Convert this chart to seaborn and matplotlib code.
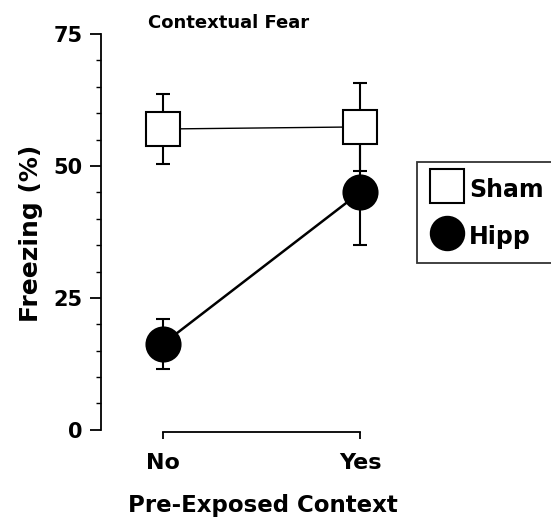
import matplotlib
matplotlib.use("Agg")
import matplotlib.pyplot as plt
from matplotlib.lines import Line2D
from matplotlib.ticker import MultipleLocator
import pandas as pd
import seaborn as sns

contexts = ["No", "Yes"]
groups = ["Sham", "Hipp"]
sham_mean = [57.0, 57.4]
sham_sem = [6.7, 8.4]
hipp_mean = [16.3, 45.0]
hipp_sem = [4.8, 10.0]

df = pd.DataFrame({
    "context": contexts * 2,
    "group": [groups[0]] * 2 + [groups[1]] * 2,
    "freezing": sham_mean + hipp_mean,
    "sem": sham_sem + hipp_sem,
})

sns.set_style("ticks", rc={
    "text.color": "black",
    "axes.labelcolor": "black",
    "axes.edgecolor": "black",
    "xtick.color": "black",
    "ytick.color": "black",
})
plt.rcParams["font.family"] = ["DejaVu Sans"]
plt.rcParams["font.weight"] = "bold"

fig = plt.figure(figsize=(5.51, 5.21), dpi=100)
ax = fig.add_axes([101 / 551, 1 - 432 / 521, 324 / 551, (432 - 34) / 521])

styles = {
    "Sham": dict(marker="s", mfc="white", lw=1.0),
    "Hipp": dict(marker="o", mfc="black", lw=1.8),
}

for g in groups:
    sub = df[df["group"] == g]
    ax.errorbar(sub["context"], sub["freezing"], yerr=sub["sem"], fmt="none",
                ecolor="black", elinewidth=1.5, capsize=4.7, capthick=1.5, zorder=1)
for g in groups:
    sub = df[df["group"] == g]
    st = styles[g]
    sns.lineplot(data=sub, x="context", y="freezing", ax=ax, color="black",
                 linewidth=st["lw"], marker=st["marker"], markersize=24.5,
                 markerfacecolor=st["mfc"], markeredgecolor="black",
                 markeredgewidth=1.5, sort=False, legend=False, zorder=3)

ax.set_xlim(-0.315, 1.33)
ax.set_ylim(-0.4, 75)
ax.yaxis.set_major_locator(MultipleLocator(25))
ax.yaxis.set_minor_locator(MultipleLocator(5))
ax.spines["top"].set_visible(False)
ax.spines["right"].set_visible(False)
ax.spines["left"].set_bounds(0, 75)
ax.spines["bottom"].set_bounds(0, 1)
for s in ("left", "bottom"):
    ax.spines[s].set_linewidth(1.3)
ax.tick_params(axis="y", which="major", length=8, width=1.3, pad=5, labelsize=15)
ax.tick_params(axis="y", which="minor", length=3.5, width=1.0)
ax.tick_params(axis="x", which="major", length=5, width=1.3, pad=10, labelsize=16)

ax.set_xlabel("Pre-Exposed Context", fontsize=16.5, fontweight="bold", labelpad=15)
ax.set_ylabel("Freezing (%)", fontsize=18, fontweight="bold", labelpad=8)
ax.text(148 / 551, 1 - 23 / 521, "Contextual Fear", transform=fig.transFigure,
        ha="left", va="center", fontsize=13, fontweight="bold")

handles = [
    Line2D([], [], linestyle="none", marker="s", markersize=24.5,
           markerfacecolor="white", markeredgecolor="black", markeredgewidth=1.5),
    Line2D([], [], linestyle="none", marker="o", markersize=24.5,
           markerfacecolor="black", markeredgecolor="black"),
]
leg = fig.legend(handles, groups, loc="upper left",
                 bbox_to_anchor=(417 / 551, 1 - 162 / 521), borderaxespad=0,
                 prop={"size": 17, "weight": "bold"}, frameon=True, fancybox=False,
                 borderpad=0.55, handlelength=1.4, handleheight=1.5,
                 handletextpad=0.25, labelspacing=0.75)
leg.get_frame().set_edgecolor("black")
leg.get_frame().set_linewidth(1.3)

fig.savefig("out.png", dpi=100)
